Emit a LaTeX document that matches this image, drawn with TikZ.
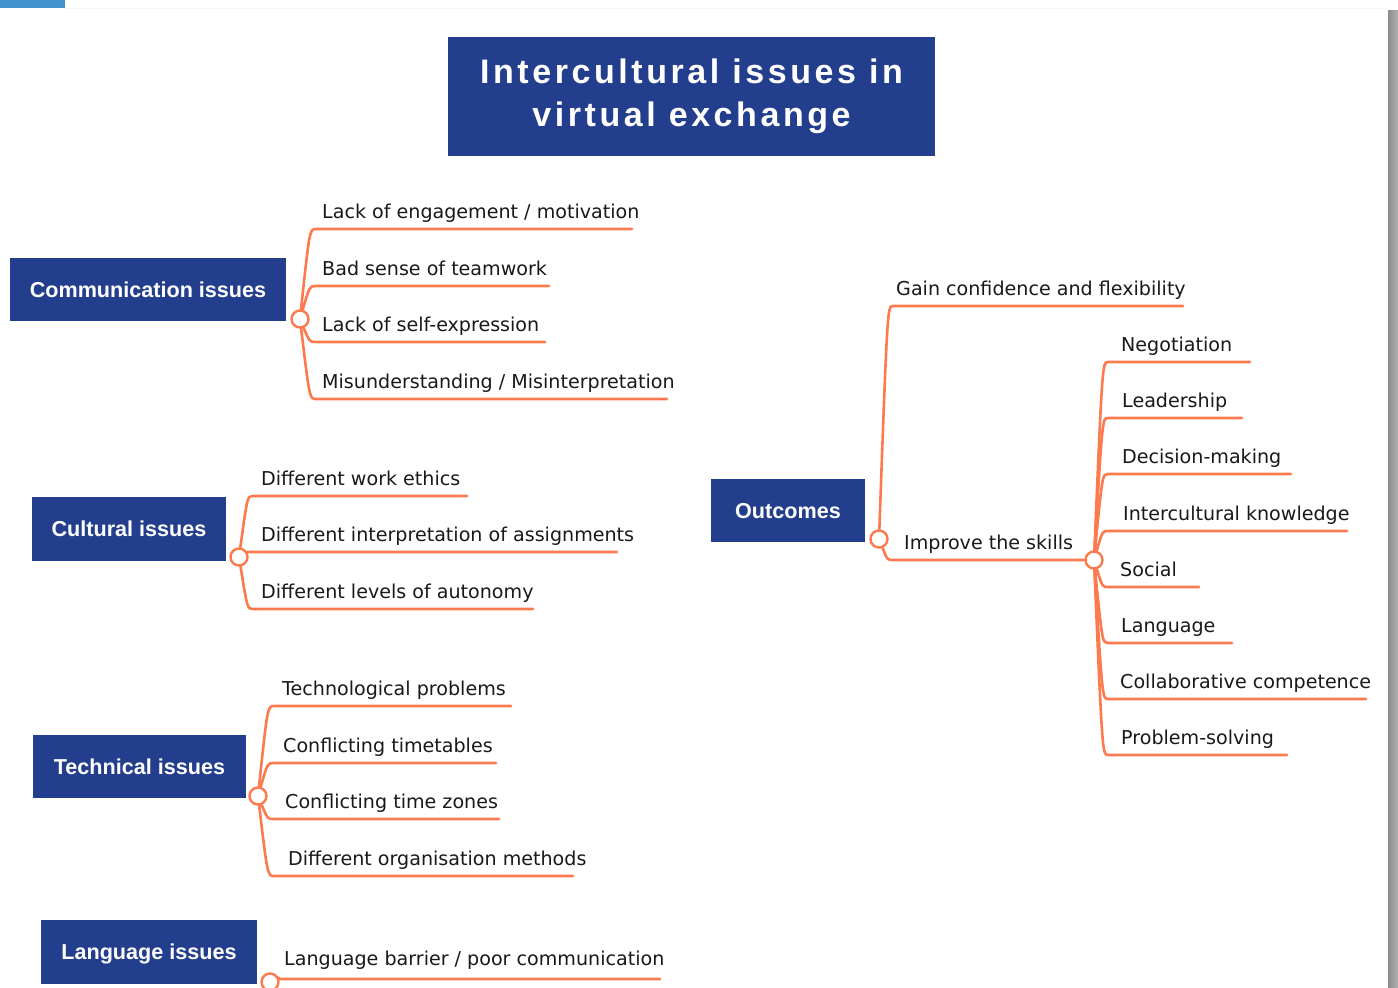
\documentclass[tikz,border=0pt]{standalone}
\usepackage{fontspec}
\setmainfont{DejaVu Sans}
\newfontfamily\boxfont{Liberation Sans}
\newfontfamily\titlefont{Liberation Sans}[LetterSpace=10.5]
\usetikzlibrary{calc}
\pgfdeclarelayer{paper}
\pgfdeclarelayer{background}
\pgfsetlayers{paper,background,main}
\definecolor{mmblue}{RGB}{35,62,140}
\definecolor{mmorange}{RGB}{252,122,78}
\definecolor{topblue}{RGB}{66,146,206}
\definecolor{inkcol}{RGB}{25,25,25}
\definecolor{shadeA}{RGB}{140,140,140}
\definecolor{shadeB}{RGB}{178,178,178}
\tikzset{
 rootbox/.style={fill=mmblue, text=white, inner sep=0pt, font=\boxfont\bfseries\fontsize{21.6}{24}\selectfont, text height=15.5pt, text depth=0pt},
 titlebox/.style={fill=mmblue, text=white, align=center, inner sep=0pt, font=\titlefont\bfseries\fontsize{34}{43}\selectfont},
 knob/.style={circle, draw=mmorange, fill=white, line width=2.4pt, minimum size=17pt, inner sep=0pt},
 leaf/.style={anchor=base west, inner sep=0pt, text=inkcol, font=\fontsize{19.1}{22}\selectfont},
 brline/.style={draw=mmorange, line width=2.6pt, line cap=round}
}
% #1 parent knob, #2 underline start, #3 underline end
\newcommand\mmbranch[3]{%
  \draw[brline] let \p1=(#1), \p2=(#2) in (#1) .. controls ({\x1+0.6*(\x2-\x1)},\y2) .. (#2) -- (#3);}
% #1 name, #2 parent knob, #3 start x, #4 underline y, #5 end x, #6 text x, #7 text
\newcommand\mmchild[7]{%
  \coordinate (#1s) at (#3,#4);
  \coordinate (#1e) at (#5,#4);
  \node[leaf] (#1) at (#6,#4-11) {#7};
  \begin{pgfonlayer}{background}\mmbranch{#2}{#1s}{#1e}\end{pgfonlayer}}
\begin{document}
\begin{tikzpicture}[x=1pt,y=-1pt]
\useasboundingbox (0,0) rectangle (1398,988);
\begin{pgfonlayer}{paper}
\fill[white] (0,0) rectangle (1398,988);
\fill[topblue] (0,0) rectangle (65,8);
\draw[gray!8, line width=1pt] (65,8.5) -- (1388,8.5);
\shade[left color=shadeA, right color=shadeB] (1388,10) rectangle (1398,988);
\end{pgfonlayer}

\node[titlebox, minimum width=487pt, minimum height=119pt] (title) at (691.5,96.5) {Intercultural issues in\\virtual exchange};

\node[rootbox, minimum width=276pt, minimum height=63pt] (comm) at (148,289.5) {Communication issues};
\node[rootbox, minimum width=194pt, minimum height=64pt] (cult) at (129,529) {Cultural issues};
\node[rootbox, minimum width=213pt, minimum height=63pt] (tech) at (139.5,766.5) {Technical issues};
\node[rootbox, minimum width=216pt, minimum height=64pt] (lang) at (149,952) {Language issues};
\node[rootbox, minimum width=154pt, minimum height=63pt] (outc) at (788,510.5) {Outcomes};

\node[knob] (kcomm) at (300,319) {};
\node[knob] (kcult) at (239,557) {};
\node[knob] (ktech) at (258,796) {};
\node[knob] (klang) at (270,982) {};
\node[knob] (koutc) at (879,539) {};
\node[knob] (kskill) at (1094,560) {};

\mmchild{cmA}{kcomm}{316}{229}{632}{322}{Lack of engagement / motivation}
\mmchild{cmB}{kcomm}{316}{286}{549}{322}{Bad sense of teamwork}
\mmchild{cmC}{kcomm}{316}{342}{545}{322}{Lack of self-expression}
\mmchild{cmD}{kcomm}{316}{399}{667}{322}{Misunderstanding / Misinterpretation}

\mmchild{cuA}{kcult}{253}{496}{467}{261}{Different work ethics}
\mmchild{cuB}{kcult}{253}{552}{617}{261}{Different interpretation of assignments}
\mmchild{cuC}{kcult}{253}{609}{533}{261}{Different levels of autonomy}

\mmchild{teA}{ktech}{274}{706}{511}{282}{Technological problems}
\mmchild{teB}{ktech}{274}{763}{496}{283}{Conflicting timetables}
\mmchild{teC}{ktech}{274}{819}{499}{285}{Conflicting time zones}
\mmchild{teD}{ktech}{274}{876}{573}{288}{Different organisation methods}

\coordinate (laAs) at (280,979);
\coordinate (laAe) at (660,979);
\node[leaf] (laA) at (284,965) {Language barrier / poor communication};
\begin{pgfonlayer}{background}\mmbranch{klang}{laAs}{laAe}\end{pgfonlayer}

\mmchild{ouA}{koutc}{893}{306}{1183}{896}{Gain confidence and flexibility}
\mmchild{ouB}{koutc}{893}{560}{1094}{904}{Improve the skills}

\mmchild{skA}{kskill}{1108}{362}{1250}{1121}{Negotiation}
\mmchild{skB}{kskill}{1108}{418}{1242}{1122}{Leadership}
\mmchild{skC}{kskill}{1108}{474}{1291}{1122}{Decision-making}
\mmchild{skD}{kskill}{1108}{531}{1347}{1123}{Intercultural knowledge}
\mmchild{skE}{kskill}{1108}{587}{1199}{1120}{Social}
\mmchild{skF}{kskill}{1108}{643}{1232}{1121}{Language}
\mmchild{skG}{kskill}{1108}{699}{1366}{1120}{Collaborative competence}
\mmchild{skH}{kskill}{1108}{755}{1287}{1121}{Problem-solving}
\end{tikzpicture}
\end{document}
